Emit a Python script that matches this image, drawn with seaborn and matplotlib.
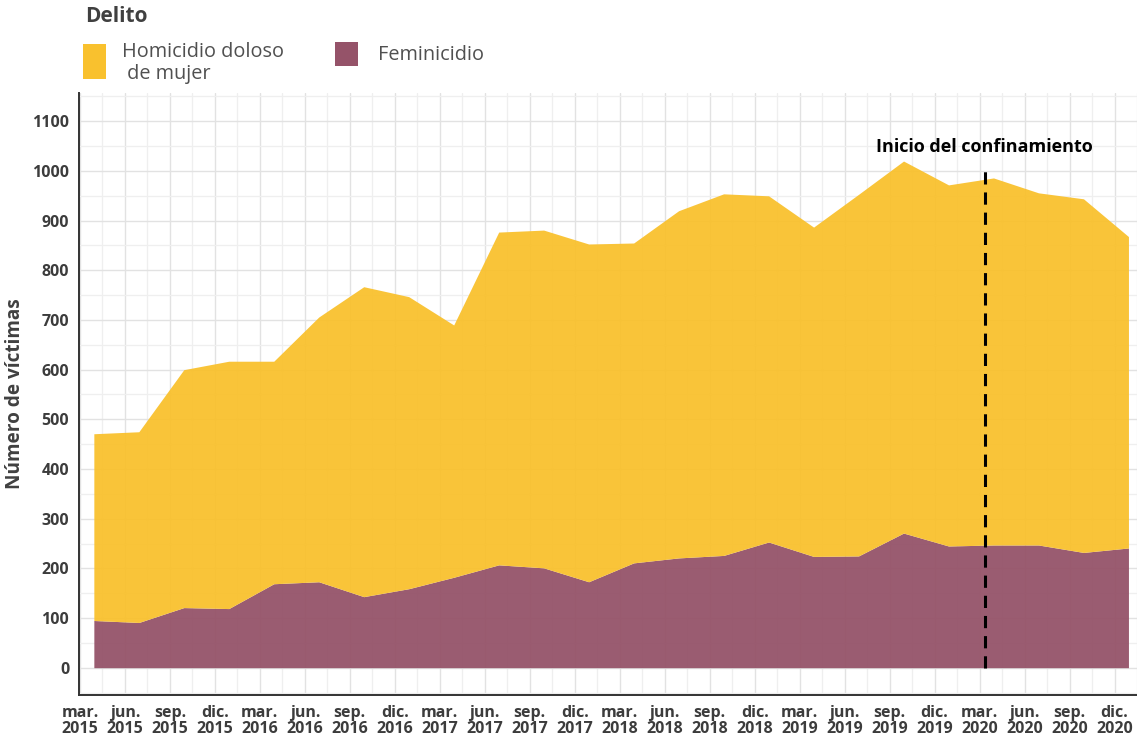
import numpy as np
import pandas as pd
import matplotlib.pyplot as plt
import seaborn as sns
from matplotlib.patches import Rectangle
from matplotlib.ticker import MultipleLocator

# Datos trimestrales (víctimas)
trimestres = ["mar.\n2015", "jun.\n2015", "sep.\n2015", "dic.\n2015",
              "mar.\n2016", "jun.\n2016", "sep.\n2016", "dic.\n2016",
              "mar.\n2017", "jun.\n2017", "sep.\n2017", "dic.\n2017",
              "mar.\n2018", "jun.\n2018", "sep.\n2018", "dic.\n2018",
              "mar.\n2019", "jun.\n2019", "sep.\n2019", "dic.\n2019",
              "mar.\n2020", "jun.\n2020", "sep.\n2020", "dic.\n2020"]
feminicidio = [95, 91, 121, 119, 169, 173, 143, 159, 182, 207, 201, 173,
               211, 221, 226, 253, 224, 225, 271, 245, 247, 247, 232, 241]
homicidio = [376, 384, 479, 498, 448, 533, 624, 588, 508, 670, 680, 680,
             644, 699, 728, 697, 663, 728, 749, 727, 739, 709, 712, 627]
series = ["Homicidio doloso\n de mujer", "Feminicidio"]
confinamiento = "mar.\n2020"

amarillo = "#F9C12E"
morado = "#955369"

df = pd.DataFrame({"trimestre": trimestres,
                   "Feminicidio": feminicidio,
                   "Homicidio": homicidio})
df["pos"] = np.arange(len(df)) + 0.31

sns.set_theme(style="whitegrid")
plt.rcParams['font.family'] = ['Open Sans', 'DejaVu Sans']

W, H = 1137, 736
fig = plt.figure(figsize=(W / 100, H / 100), dpi=100)
ax = fig.add_axes([79 / W, 1 - 695 / H, (W - 79) / W, (695 - 93) / H])

ax.stackplot(df["pos"], df["Feminicidio"], df["Homicidio"],
             colors=[morado, amarillo], alpha=0.95, zorder=2, linewidth=0)

# Línea del confinamiento
x_conf = trimestres.index(confinamiento) + 0.11
ax.vlines(x_conf, 0, 1000, colors="black", linestyles=(0, (4, 2.6)),
          linewidth=2.2, zorder=3)
ax.text(x_conf, 1048, "Inicio del confinamiento", ha="center", va="center",
        fontsize=13, fontweight="bold", color="black", zorder=4)

ax.set_xlim(-0.02, 23.5)
ax.set_ylim(-55, 1157)
ax.set_xticks(np.arange(len(trimestres)))
ax.set_xticklabels(trimestres)
ax.set_yticks(np.arange(0, 1101, 100))
ax.xaxis.set_minor_locator(MultipleLocator(0.5))
ax.yaxis.set_minor_locator(MultipleLocator(50))

ax.set_facecolor("white")
ax.grid(which="major", color="#E2E2E2", linewidth=1.0, zorder=0)
ax.grid(which="minor", color="#EFEFEF", linewidth=0.9, zorder=0)
ax.set_axisbelow(True)

for s in ["top", "right"]:
    ax.spines[s].set_visible(False)
for s in ["left", "bottom"]:
    ax.spines[s].set_visible(True)
    ax.spines[s].set_color("#333333")
    ax.spines[s].set_linewidth(1.4)

ax.tick_params(axis="both", which="major", length=4, width=1, color="#333333",
               labelcolor="#3C3C3C", labelsize=11.5, pad=3)
ax.tick_params(which="minor", length=0)
for lab in ax.get_xticklabels() + ax.get_yticklabels():
    lab.set_fontweight("bold")
for lab in ax.get_xticklabels():
    lab.set_linespacing(1.0)

ax.set_ylabel("Número de víctimas", fontsize=13.7, fontweight="bold",
              color="#404040", labelpad=5)
ax.set_xlabel("")

# Leyenda
fig.text(85 / W, 1 - 17 / H, "Delito", fontsize=15, fontweight="bold",
         color="#404040", ha="left", va="center")
fig.add_artist(Rectangle((83 / W, 1 - 79 / H), 23 / W, 35 / H,
                         transform=fig.transFigure, color=amarillo, lw=0))
fig.text(122 / W, 1 - 63 / H, series[0], fontsize=14.3, color="#505050",
         ha="left", va="center", linespacing=1.15)
fig.add_artist(Rectangle((335 / W, 1 - 66 / H), 23 / W, 24 / H,
                         transform=fig.transFigure, color=morado, lw=0))
fig.text(378 / W, 1 - 55 / H, series[1], fontsize=14.3, color="#505050",
         ha="left", va="center")

fig.savefig("out.png", dpi=100)
